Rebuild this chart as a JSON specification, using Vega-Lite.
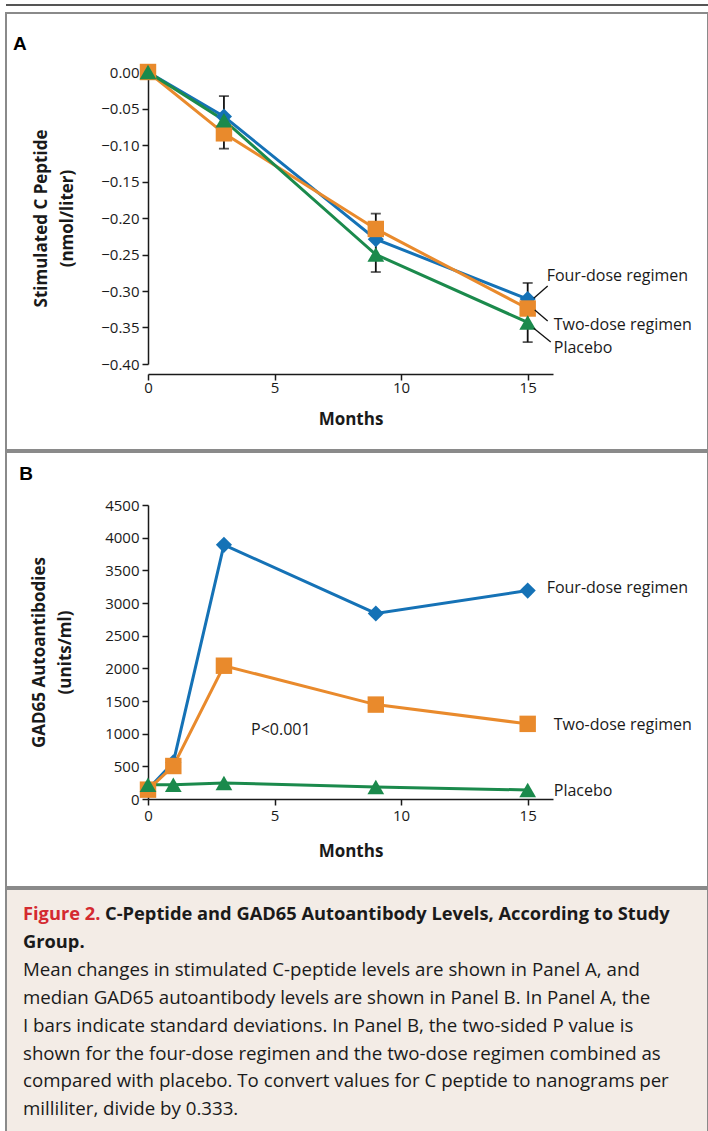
{
  "$schema": "https://vega.github.io/schema/vega-lite/v6.json",
  "background": "white",
  "padding": {"left": 5, "top": 4, "right": 0, "bottom": 0},
  "spacing": 6,
  "vconcat": [
    {
      "width": 702,
      "height": 2,
      "data": {"values": [{"a": 0, "b": 1}]},
      "mark": {"type": "rect", "color": "#555555"},
      "encoding": {
        "x": {"field": "a", "type": "quantitative", "scale": {"domain": [0, 1], "nice": false}, "axis": null},
        "x2": {"field": "b"},
        "y": {"field": "a", "type": "quantitative", "scale": {"domain": [0, 1], "nice": false}, "axis": null},
        "y2": {"field": "b"}
      }
    },
    {
      "spacing": 0,
      "vconcat": [
        {
          "width": 702,
          "height": 437,
          "view": {"fill": "white", "stroke": "#8a8a8a", "strokeWidth": 2},
          "layer": [
            {
              "data": {"values": [
                {"month": 3, "lo": -0.105, "hi": -0.033},
                {"month": 9, "lo": -0.274, "hi": -0.194},
                {"month": 15, "lo": -0.37, "hi": -0.289}
              ]},
              "mark": {"type": "errorbar", "ticks": {"size": 10, "thickness": 1.8, "color": "#111111"}, "rule": {"strokeWidth": 1.8, "color": "#111111"}},
              "encoding": {
                "x": {"field": "month", "type": "quantitative", "scale": {"domain": [0, 16], "range": [142, 547], "nice": false, "zero": false}, "axis": {"values": [0, 5, 10, 15], "format": "d", "offset": -76, "title": "Months", "titlePadding": 16, "labelPadding": 0}},
                "y": {"field": "lo", "type": "quantitative", "scale": {"domain": [-0.4, 0], "range": [351, 59], "nice": false, "zero": false}, "axis": {"values": [0, -0.05, -0.1, -0.15, -0.2, -0.25, -0.3, -0.35, -0.4], "format": ".2f", "offset": -142, "title": ["Stimulated C Peptide", "(nmol/liter)"], "titlePadding": 24, "titleLineHeight": 26}},
                "y2": {"field": "hi"}
              }
            },
            {
              "data": {"values": [
                {"group": "Four-dose regimen", "month": 0, "value": 0},
                {"group": "Four-dose regimen", "month": 3, "value": -0.061},
                {"group": "Four-dose regimen", "month": 9, "value": -0.229},
                {"group": "Four-dose regimen", "month": 15, "value": -0.311},
                {"group": "Two-dose regimen", "month": 0, "value": 0},
                {"group": "Two-dose regimen", "month": 3, "value": -0.084},
                {"group": "Two-dose regimen", "month": 9, "value": -0.215},
                {"group": "Two-dose regimen", "month": 15, "value": -0.324},
                {"group": "Placebo", "month": 0, "value": 0},
                {"group": "Placebo", "month": 3, "value": -0.066},
                {"group": "Placebo", "month": 9, "value": -0.25},
                {"group": "Placebo", "month": 15, "value": -0.343}
              ]},
              "layer": [
                {
                  "mark": {"type": "line", "strokeWidth": 3},
                  "encoding": {
                    "x": {"field": "month", "type": "quantitative", "scale": {"domain": [0, 16], "range": [142, 547], "nice": false, "zero": false}, "axis": {"values": [0, 5, 10, 15], "format": "d", "offset": -76, "title": "Months", "titlePadding": 16, "labelPadding": 0}},
                    "y": {"field": "value", "type": "quantitative", "scale": {"domain": [-0.4, 0], "range": [351, 59], "nice": false, "zero": false}, "axis": {"values": [0, -0.05, -0.1, -0.15, -0.2, -0.25, -0.3, -0.35, -0.4], "format": ".2f", "offset": -142, "title": ["Stimulated C Peptide", "(nmol/liter)"], "titlePadding": 24, "titleLineHeight": 26}},
                    "color": {"field": "group", "type": "nominal", "scale": {"domain": ["Four-dose regimen", "Two-dose regimen", "Placebo"], "range": ["#1572b6", "#e98a2c", "#1b8a4c"]}, "legend": null}
                  }
                },
                {
                  "mark": {"type": "point", "filled": true, "opacity": 1},
                  "encoding": {
                    "x": {"field": "month", "type": "quantitative", "scale": {"domain": [0, 16], "range": [142, 547], "nice": false, "zero": false}, "axis": {"values": [0, 5, 10, 15], "format": "d", "offset": -76, "title": "Months", "titlePadding": 16, "labelPadding": 0}},
                    "y": {"field": "value", "type": "quantitative", "scale": {"domain": [-0.4, 0], "range": [351, 59], "nice": false, "zero": false}, "axis": {"values": [0, -0.05, -0.1, -0.15, -0.2, -0.25, -0.3, -0.35, -0.4], "format": ".2f", "offset": -142, "title": ["Stimulated C Peptide", "(nmol/liter)"], "titlePadding": 24, "titleLineHeight": 26}},
                    "color": {"field": "group", "type": "nominal", "scale": {"domain": ["Four-dose regimen", "Two-dose regimen", "Placebo"], "range": ["#1572b6", "#e98a2c", "#1b8a4c"]}, "legend": null},
                    "shape": {"field": "group", "type": "nominal", "scale": {"domain": ["Four-dose regimen", "Two-dose regimen", "Placebo"], "range": ["diamond", "square", "triangle-up"]}, "legend": null},
                    "size": {"field": "group", "type": "ordinal", "scale": {"domain": ["Four-dose regimen", "Two-dose regimen", "Placebo"], "range": [260, 280, 330]}, "legend": null}
                  }
                }
              ]
            },
            {
              "data": {"values": [
                {"x1": 15.24, "x2": 15.79, "y1": -0.31, "y2": -0.293},
                {"x1": 15.28, "x2": 15.79, "y1": -0.326, "y2": -0.341},
                {"x1": 15.24, "x2": 15.91, "y1": -0.351, "y2": -0.37}
              ]},
              "mark": {"type": "rule", "color": "#111111", "strokeWidth": 1.3},
              "encoding": {
                "x": {"field": "x1", "type": "quantitative", "scale": {"domain": [0, 16], "range": [142, 547], "nice": false, "zero": false}, "axis": {"values": [0, 5, 10, 15], "format": "d", "offset": -76, "title": "Months", "titlePadding": 16, "labelPadding": 0}},
                "x2": {"field": "x2"},
                "y": {"field": "y1", "type": "quantitative", "scale": {"domain": [-0.4, 0], "range": [351, 59], "nice": false, "zero": false}, "axis": {"values": [0, -0.05, -0.1, -0.15, -0.2, -0.25, -0.3, -0.35, -0.4], "format": ".2f", "offset": -142, "title": ["Stimulated C Peptide", "(nmol/liter)"], "titlePadding": 24, "titleLineHeight": 26}},
                "y2": {"field": "y2"}
              }
            },
            {
              "data": {"values": [
                {"label": "Four-dose regimen", "month": 15.75, "value": -0.279},
                {"label": "Two-dose regimen", "month": 16.03, "value": -0.347},
                {"label": "Placebo", "month": 16.03, "value": -0.378}
              ]},
              "mark": {"type": "text", "align": "left", "baseline": "middle", "fontSize": 16, "font": "Open Sans", "color": "#1a1a1a"},
              "encoding": {
                "x": {"field": "month", "type": "quantitative", "scale": {"domain": [0, 16], "range": [142, 547], "nice": false, "zero": false}, "axis": {"values": [0, 5, 10, 15], "format": "d", "offset": -76, "title": "Months", "titlePadding": 16, "labelPadding": 0}},
                "y": {"field": "value", "type": "quantitative", "scale": {"domain": [-0.4, 0], "range": [351, 59], "nice": false, "zero": false}, "axis": {"values": [0, -0.05, -0.1, -0.15, -0.2, -0.25, -0.3, -0.35, -0.4], "format": ".2f", "offset": -142, "title": ["Stimulated C Peptide", "(nmol/liter)"], "titlePadding": 24, "titleLineHeight": 26}},
                "text": {"field": "label"}
              }
            },
            {
              "data": {"values": [{"panel": "A"}]},
              "mark": {"type": "text", "align": "center", "baseline": "middle", "fontSize": 19, "font": "Liberation Sans", "fontWeight": "bold", "color": "#000000"},
              "encoding": {
                "x": {"datum": -5.06, "type": "quantitative", "scale": {"domain": [0, 16], "range": [142, 547], "nice": false, "zero": false}, "axis": {"values": [0, 5, 10, 15], "format": "d", "offset": -76, "title": "Months", "titlePadding": 16, "labelPadding": 0}},
                "y": {"datum": 0.038, "type": "quantitative", "scale": {"domain": [-0.4, 0], "range": [351, 59], "nice": false, "zero": false}, "axis": {"values": [0, -0.05, -0.1, -0.15, -0.2, -0.25, -0.3, -0.35, -0.4], "format": ".2f", "offset": -142, "title": ["Stimulated C Peptide", "(nmol/liter)"], "titlePadding": 24, "titleLineHeight": 26}},
                "text": {"field": "panel"}
              }
            }
          ]
        },
        {
          "width": 702,
          "height": 435,
          "view": {"fill": "white", "stroke": "#8a8a8a", "strokeWidth": 2},
          "layer": [
            {
              "data": {"values": [
                {"group": "Four-dose regimen", "month": 0, "value": 150},
                {"group": "Four-dose regimen", "month": 1, "value": 560},
                {"group": "Four-dose regimen", "month": 3, "value": 3890},
                {"group": "Four-dose regimen", "month": 9, "value": 2840},
                {"group": "Four-dose regimen", "month": 15, "value": 3190},
                {"group": "Two-dose regimen", "month": 0, "value": 143},
                {"group": "Two-dose regimen", "month": 1, "value": 505},
                {"group": "Two-dose regimen", "month": 3, "value": 2040},
                {"group": "Two-dose regimen", "month": 9, "value": 1445},
                {"group": "Two-dose regimen", "month": 15, "value": 1150},
                {"group": "Placebo", "month": 0, "value": 219},
                {"group": "Placebo", "month": 1, "value": 219},
                {"group": "Placebo", "month": 3, "value": 245},
                {"group": "Placebo", "month": 9, "value": 184},
                {"group": "Placebo", "month": 15, "value": 138}
              ]},
              "layer": [
                {
                  "mark": {"type": "line", "strokeWidth": 3},
                  "encoding": {
                    "x": {"field": "month", "type": "quantitative", "scale": {"domain": [0, 16], "range": [142, 547], "nice": false, "zero": false}, "axis": {"values": [0, 5, 10, 15], "format": "d", "offset": -88, "title": "Months", "titlePadding": 20, "labelPadding": 3}},
                    "y": {"field": "value", "type": "quantitative", "scale": {"domain": [0, 4500], "range": [347, 53], "nice": false, "zero": false}, "axis": {"values": [0, 500, 1000, 1500, 2000, 2500, 3000, 3500, 4000, 4500], "format": "d", "offset": -142, "title": ["GAD65 Autoantibodies", "(units/ml)"], "titlePadding": 30, "titleLineHeight": 26}},
                    "color": {"field": "group", "type": "nominal", "scale": {"domain": ["Four-dose regimen", "Two-dose regimen", "Placebo"], "range": ["#1572b6", "#e98a2c", "#1b8a4c"]}, "legend": null}
                  }
                },
                {
                  "mark": {"type": "point", "filled": true, "opacity": 1},
                  "encoding": {
                    "x": {"field": "month", "type": "quantitative", "scale": {"domain": [0, 16], "range": [142, 547], "nice": false, "zero": false}, "axis": {"values": [0, 5, 10, 15], "format": "d", "offset": -88, "title": "Months", "titlePadding": 20, "labelPadding": 3}},
                    "y": {"field": "value", "type": "quantitative", "scale": {"domain": [0, 4500], "range": [347, 53], "nice": false, "zero": false}, "axis": {"values": [0, 500, 1000, 1500, 2000, 2500, 3000, 3500, 4000, 4500], "format": "d", "offset": -142, "title": ["GAD65 Autoantibodies", "(units/ml)"], "titlePadding": 30, "titleLineHeight": 26}},
                    "color": {"field": "group", "type": "nominal", "scale": {"domain": ["Four-dose regimen", "Two-dose regimen", "Placebo"], "range": ["#1572b6", "#e98a2c", "#1b8a4c"]}, "legend": null},
                    "shape": {"field": "group", "type": "nominal", "scale": {"domain": ["Four-dose regimen", "Two-dose regimen", "Placebo"], "range": ["diamond", "square", "triangle-up"]}, "legend": null},
                    "size": {"field": "group", "type": "ordinal", "scale": {"domain": ["Four-dose regimen", "Two-dose regimen", "Placebo"], "range": [280, 300, 350]}, "legend": null}
                  }
                }
              ]
            },
            {
              "data": {"values": [
                {"label": "Four-dose regimen", "month": 15.75, "value": 3230},
                {"label": "Two-dose regimen", "month": 16.03, "value": 1140},
                {"label": "Placebo", "month": 16.03, "value": 122},
                {"label": "P<0.001", "month": 4.07, "value": 1060}
              ]},
              "mark": {"type": "text", "align": "left", "baseline": "middle", "fontSize": 16, "font": "Open Sans", "color": "#1a1a1a"},
              "encoding": {
                "x": {"field": "month", "type": "quantitative", "scale": {"domain": [0, 16], "range": [142, 547], "nice": false, "zero": false}, "axis": {"values": [0, 5, 10, 15], "format": "d", "offset": -88, "title": "Months", "titlePadding": 20, "labelPadding": 3}},
                "y": {"field": "value", "type": "quantitative", "scale": {"domain": [0, 4500], "range": [347, 53], "nice": false, "zero": false}, "axis": {"values": [0, 500, 1000, 1500, 2000, 2500, 3000, 3500, 4000, 4500], "format": "d", "offset": -142, "title": ["GAD65 Autoantibodies", "(units/ml)"], "titlePadding": 30, "titleLineHeight": 26}},
                "text": {"field": "label"}
              }
            },
            {
              "data": {"values": [{"panel": "B"}]},
              "mark": {"type": "text", "align": "center", "baseline": "middle", "fontSize": 19, "font": "Liberation Sans", "fontWeight": "bold", "color": "#000000"},
              "encoding": {
                "x": {"datum": -4.82, "type": "quantitative", "scale": {"domain": [0, 16], "range": [142, 547], "nice": false, "zero": false}, "axis": {"values": [0, 5, 10, 15], "format": "d", "offset": -88, "title": "Months", "titlePadding": 20, "labelPadding": 3}},
                "y": {"datum": 4974, "type": "quantitative", "scale": {"domain": [0, 4500], "range": [347, 53], "nice": false, "zero": false}, "axis": {"values": [0, 500, 1000, 1500, 2000, 2500, 3000, 3500, 4000, 4500], "format": "d", "offset": -142, "title": ["GAD65 Autoantibodies", "(units/ml)"], "titlePadding": 30, "titleLineHeight": 26}},
                "text": {"field": "panel"}
              }
            }
          ]
        },
        {
          "width": 702,
          "height": 246,
          "view": {"fill": "#f3ece6", "stroke": "#8a8a8a", "strokeWidth": 2},
          "layer": [
            {
              "data": {"values": [
                {"line": 0, "text": "C-Peptide and GAD65 Autoantibody Levels, According to Study"}
              ]},
              "mark": {"type": "text", "align": "left", "baseline": "middle", "dx": 99, "font": "Open Sans", "fontWeight": "bold", "fontSize": 18.3, "color": "#1a1a1a"},
              "encoding": {
                "x": {"datum": 0, "type": "quantitative", "scale": {"domain": [0, 1]}, "axis": null},
                "y": {"field": "line", "type": "quantitative", "scale": {"domain": [-0.94, 7.94], "reverse": true, "nice": false, "zero": false}, "axis": null},
                "text": {"field": "text"}
              }
            },
            {
              "data": {"values": [
                {"line": 1, "text": "Group."}
              ]},
              "mark": {"type": "text", "align": "left", "baseline": "middle", "dx": 17, "font": "Open Sans", "fontWeight": "bold", "fontSize": 18.3, "color": "#1a1a1a"},
              "encoding": {
                "x": {"datum": 0, "type": "quantitative", "scale": {"domain": [0, 1]}, "axis": null},
                "y": {"field": "line", "type": "quantitative", "scale": {"domain": [-0.94, 7.94], "reverse": true, "nice": false, "zero": false}, "axis": null},
                "text": {"field": "text"}
              }
            },
            {
              "data": {"values": [{"line": 0, "text": "Figure 2."}]},
              "mark": {"type": "text", "align": "left", "baseline": "middle", "dx": 17, "font": "Open Sans", "fontWeight": "bold", "fontSize": 18.3, "color": "#d42a30"},
              "encoding": {
                "x": {"datum": 0, "type": "quantitative", "scale": {"domain": [0, 1]}, "axis": null},
                "y": {"field": "line", "type": "quantitative", "scale": {"domain": [-0.94, 7.94], "reverse": true, "nice": false, "zero": false}, "axis": null},
                "text": {"field": "text"}
              }
            },
            {
              "data": {"values": [
                {"line": 2, "text": "Mean changes in stimulated C-peptide levels are shown in Panel A, and"},
                {"line": 3, "text": "median GAD65 autoantibody levels are shown in Panel B. In Panel A, the"},
                {"line": 4, "text": "I bars indicate standard deviations. In Panel B, the two-sided P value is"},
                {"line": 5, "text": "shown for the four-dose regimen and the two-dose regimen combined as"},
                {"line": 6, "text": "compared with placebo. To convert values for C peptide to nanograms per"},
                {"line": 7, "text": "milliliter, divide by 0.333."}
              ]},
              "mark": {"type": "text", "align": "left", "baseline": "middle", "dx": 17, "font": "Open Sans", "fontSize": 18.7, "color": "#1a1a1a"},
              "encoding": {
                "x": {"datum": 0, "type": "quantitative", "scale": {"domain": [0, 1]}, "axis": null},
                "y": {"field": "line", "type": "quantitative", "scale": {"domain": [-0.94, 7.94], "reverse": true, "nice": false, "zero": false}, "axis": null},
                "text": {"field": "text"}
              }
            }
          ]
        }
      ]
    }
  ],
  "config": {
    "font": "Open Sans",
    "view": {"stroke": null},
    "axis": {
      "grid": false,
      "labelFont": "Open Sans",
      "labelFontSize": 15,
      "labelColor": "#1a1a1a",
      "titleFont": "Open Sans",
      "titleFontSize": 17,
      "titleFontWeight": "bold",
      "titleColor": "#1a1a1a",
      "domainColor": "#1a1a1a",
      "domainWidth": 1.5,
      "tickColor": "#1a1a1a",
      "tickWidth": 1.5,
      "tickSize": 6,
      "labelPadding": 3,
      "labelOverlap": false,
      "labelFlush": false
    }
  }
}
